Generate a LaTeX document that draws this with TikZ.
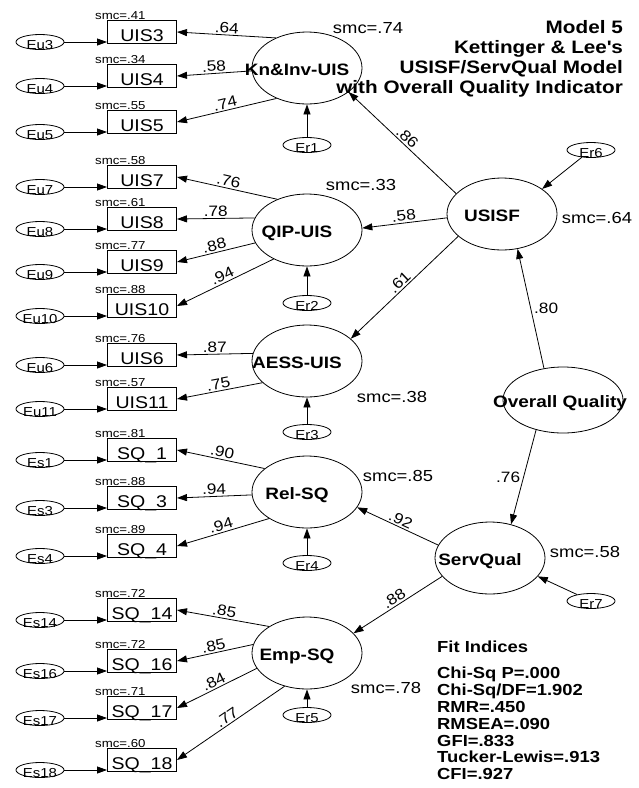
\documentclass[tikz,border=0pt]{standalone}
\usepackage{fontspec}
\setmainfont[FakeStretch=1.15]{Liberation Sans}
\usetikzlibrary{arrows.meta,positioning,shapes.geometric}
\newcommand{\zbox}[1]{\makebox[0pt]{\raisebox{-7pt}[0pt][0pt]{#1}}}
\newcommand{\ltext}[2][-20pt]{\makebox[0pt]{\kern#1\raisebox{-7.5pt}[0pt][0pt]{#2}}}

\begin{document}
\begin{tikzpicture}[x=1pt,y=-1pt,
  obs/.style={draw,line width=1pt,minimum width=69pt,minimum height=23pt,inner sep=0pt,text height=19pt,text depth=0pt,font=\fontsize{17}{17}\selectfont},
  lat/.style={draw,ellipse,line width=0.8pt,minimum width=110pt,minimum height=72pt,inner sep=0pt,font=\fontsize{16.5}{16.5}\selectfont\bfseries},
  err/.style={draw,ellipse,line width=0.8pt,minimum width=48pt,minimum height=15pt,inner sep=0pt,font=\fontsize{13}{13}\selectfont},
  arr/.style={-{Triangle[length=10pt,width=7pt]},line width=0.8pt},
  coef/.style={midway,sloped,above,inner sep=1.5pt,font=\fontsize{15}{15}\selectfont},
  coefv/.style={midway,inner sep=3pt,font=\fontsize{15}{15}\selectfont},
  smc/.style={inner sep=0pt,font=\fontsize{16}{16}\selectfont},
  smcsmall/.style={inner sep=0pt,font=\fontsize{11.5}{11.5}\selectfont},
  heading/.style={inner sep=0pt,anchor=base east,font=\fontsize{18}{18}\selectfont\bfseries},
  fitline/.style={inner sep=0pt,anchor=base west,font=\fontsize{16}{16}\selectfont\bfseries}]

  \path[use as bounding box,fill=white] (0,0) rectangle (639,788);

  % Latent factors
  \node[lat] (kn)    at (307,68)  {\ltext{Kn\&Inv-UIS}};
  \node[lat] (qip)   at (307,230) {\ltext{QIP-UIS}};
  \node[lat] (aess)  at (307,361) {\ltext{AESS-UIS}};
  \node[lat] (rel)   at (307,492) {\ltext{Rel-SQ}};
  \node[lat] (emp)   at (307,653) {\ltext{Emp-SQ}};
  \node[lat] (usisf) at (502,214) {\ltext{USISF}};
  \node[lat] (servq) at (490,558) {\ltext{ServQual}};
  \node[lat,minimum width=120pt,minimum height=66pt] (oq) at (563,400) {\ltext[-6pt]{Overall Quality}};

  % Residuals of latents
  \node[err] (er1) at (307,145) {\zbox{Er1}};
  \node[err] (er2) at (307,303) {\zbox{Er2}};
  \node[err] (er3) at (307,432) {\zbox{Er3}};
  \node[err] (er4) at (307,563) {\zbox{Er4}};
  \node[err] (er5) at (307,715) {\zbox{Er5}};
  \node[err] (er6) at (591,150) {\zbox{Er6}};
  \node[err] (er7) at (591,601) {\zbox{Er7}};
  \foreach \r/\l in {er1/kn,er2/qip,er3/aess,er4/rel,er5/emp}
    \draw[arr] (\r) -- (\l);
  \draw[arr] (er6) -- (usisf.32);
  \draw[arr] (er7) -- (servq.339);

  % Observed items with their errors
  \foreach \n/\t/\y/\s/\e in {uis3/UIS3/32/.41/Eu3, uis4/UIS4/76/.34/Eu4, uis5/UIS5/122/.55/Eu5,
      uis7/UIS7/177/.58/Eu7, uis8/UIS8/219/.61/Eu8, uis9/UIS9/262/.77/Eu9, uis10/UIS10/306/.88/Eu10,
      uis6/UIS6/355/.76/Eu6, uis11/UIS11/399/.57/Eu11,
      sq1/SQ\_1/450/.81/Es1, sq3/SQ\_3/498/.88/Es3, sq4/SQ\_4/546/.89/Es4,
      sq14/SQ\_14/610/.72/Es14, sq16/SQ\_16/661/.72/Es16, sq17/SQ\_17/708/.71/Es17, sq18/SQ\_18/760/.60/Es18} {
    \node[obs] (\n) at (142,\y) {\t};
    \node[smcsmall,above right=0pt and -12pt of \n.north west] (s\n) {smc=\s};
    \node[err] (e\n) at (40,\y+10) {\zbox{\e}};
    \draw[arr] (e\n) -- (e\n -| \n.west);
  }

  % Loadings
  \foreach \l/\a/\o/\v in {kn/136/uis3/.64, kn/183/uis4/.58, kn/225/uis5/.74,
      qip/134/uis7/.76, qip/167/uis8/.78, qip/194/uis9/.88, qip/221/uis10/.94,
      aess/172/uis6/.87, aess/206/uis11/.75,
      rel/151/sq1/.90, rel/183/sq3/.94, rel/215/sq4/.94,
      emp/145/sq14/.85, emp/171/sq16/.85, emp/197/sq17/.84, emp/236/sq18/.77}
    \draw[arr] (\l.\a) -- (\o.east) node[coef]{\v};

  % Structural paths
  \draw[arr] (usisf.156) -- (kn.330) node[coef]{.86};
  \draw[arr] (usisf.184) -- (qip.2) node[coef]{.58};
  \draw[arr] (usisf.207) -- (aess.27) node[coef]{.61};
  \draw[arr] (oq.121) -- (usisf.294) node[coefv,right]{.80};
  \draw[arr] (oq.228) -- (servq.58) node[coefv,left]{.76};
  \draw[arr] (servq.166) -- (rel.343) node[coef]{.92};
  \draw[arr] (servq.201) -- (emp.23) node[coef]{.88};

  % Squared multiple correlations
  \node[smc] (smckn)    at (368,28)  {smc=.74};
  \node[smc] (smcqip)   at (361,185) {smc=.33};
  \node[smc] (smcusisf) at (597,218) {smc=.64};
  \node[smc] (smcaess)  at (392,397) {smc=.38};
  \node[smc] (smcrel)   at (398,476) {smc=.85};
  \node[smc] (smcservq) at (585,552) {smc=.58};
  \node[smc] (smcemp)   at (386,688) {smc=.78};

  % Title
  \foreach \t [count=\i] in {{Model 5}, {Kettinger \& Lee\textquotesingle s}, {USISF/ServQual Model}, {with Overall Quality Indicator}}
    \node[heading] (head\i) at (623,13+20*\i) {\t};

  % Fit indices
  \node[fitline] (fittitle) at (437,652) {Fit Indices};
  \foreach \t [count=\i] in {{Chi-Sq P=.000}, {Chi-Sq/DF=1.902}, {RMR=.450}, {RMSEA=.090}, {GFI=.833}, {Tucker-Lewis=.913}, {CFI=.927}}
    \node[fitline] (fit\i) at (437,662+16.8*\i) {\t};
\end{tikzpicture}
\end{document}
